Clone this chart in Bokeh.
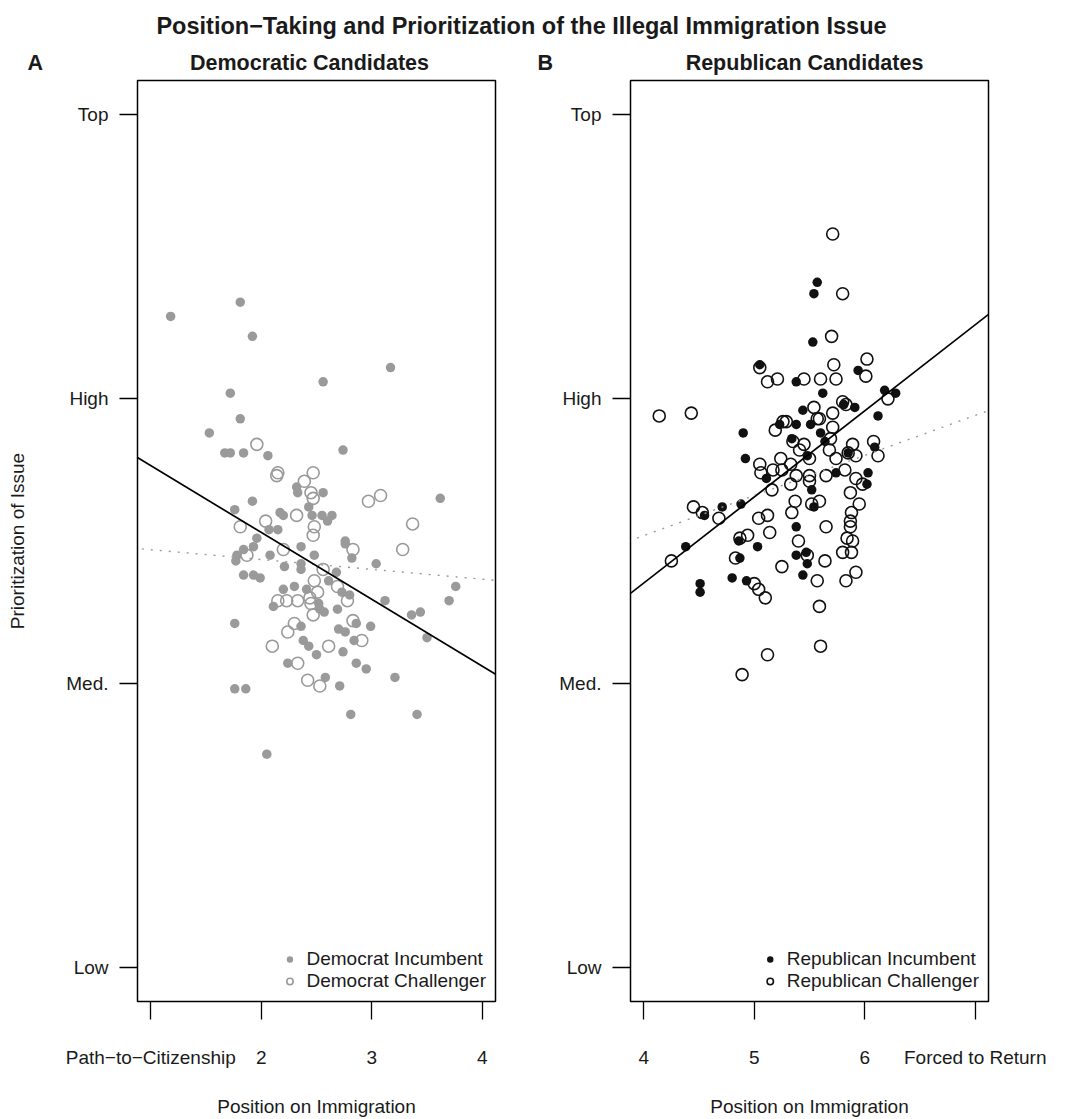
from bokeh.plotting import figure
from bokeh.layouts import column, row
from bokeh.models import Range1d, FixedTicker, Slope, Label, Legend
from bokeh.embed import file_html
from bokeh.resources import INLINE

# ---------------- data ----------------
main_title = "Position\u2212Taking and Prioritization of the Illegal Immigration Issue"
panel_letters = ["A", "B"]
panel_titles = ["Democratic Candidates", "Republican Candidates"]
y_ticks = [1, 2, 3, 4]
y_tick_labels = ["Low", "Med.", "High", "Top"]
y_title = "Prioritization of Issue"
x_title = "Position on Immigration"
dem_x_ticks = [1, 2, 3, 4]
dem_x_labels = ["Path\u2212to\u2212Citizenship", "2", "3", "4"]
rep_x_ticks = [4, 5, 6, 7]
rep_x_labels = ["4", "5", "6", "Forced to Return"]
legend_dem = ["Democrat Incumbent", "Democrat Challenger"]
legend_rep = ["Republican Incumbent", "Republican Challenger"]

# (position, prioritization)
dem_incumbent = [
    (1.18, 3.29), (1.81, 3.34), (1.92, 3.22), (3.17, 3.11), (2.56, 3.06), (1.72, 3.02),
    (1.81, 2.93), (1.53, 2.88), (1.67, 2.81), (1.72, 2.81), (1.84, 2.81), (2.06, 2.80),
    (2.74, 2.82), (3.62, 2.65), (2.32, 2.69), (2.33, 2.67), (2.56, 2.67), (1.92, 2.64),
    (1.76, 2.61), (2.43, 2.62), (2.17, 2.60), (2.20, 2.59), (2.46, 2.59), (2.55, 2.59),
    (2.60, 2.57), (2.64, 2.59), (2.07, 2.54), (2.15, 2.54), (1.96, 2.51), (1.93, 2.48),
    (1.84, 2.47), (1.78, 2.45), (1.77, 2.43), (2.08, 2.45), (2.36, 2.48), (2.48, 2.45),
    (2.76, 2.50), (2.76, 2.49), (2.82, 2.44), (3.04, 2.42), (2.21, 2.41), (2.36, 2.42),
    (2.36, 2.40), (1.84, 2.38), (1.93, 2.38), (1.99, 2.37), (2.68, 2.39), (2.61, 2.36),
    (3.76, 2.34), (2.20, 2.33), (2.30, 2.34), (2.41, 2.33), (2.73, 2.32), (2.80, 2.31),
    (2.11, 2.27), (2.52, 2.28), (2.53, 2.26), (2.57, 2.25), (2.69, 2.26), (3.12, 2.29),
    (3.36, 2.24), (3.44, 2.25), (3.70, 2.29), (1.76, 2.21), (2.36, 2.20), (2.86, 2.21),
    (2.99, 2.20), (2.70, 2.19), (2.76, 2.18), (3.50, 2.16), (2.38, 2.15), (2.43, 2.13),
    (2.84, 2.15), (2.50, 2.10), (2.74, 2.11), (2.24, 2.07), (2.86, 2.07), (2.95, 2.05),
    (3.21, 2.02), (2.58, 2.02), (2.71, 1.99), (1.76, 1.98), (1.86, 1.98), (2.81, 1.89),
    (3.41, 1.89), (2.05, 1.75),
]
dem_challenger = [
    (1.96, 2.84), (2.15, 2.74), (2.14, 2.73), (2.47, 2.74), (2.39, 2.71), (2.45, 2.67),
    (2.47, 2.65), (3.08, 2.66), (2.97, 2.64), (2.32, 2.59), (2.04, 2.57), (1.81, 2.55),
    (2.48, 2.55), (2.47, 2.52), (3.37, 2.56), (2.20, 2.47), (1.87, 2.45), (2.83, 2.47),
    (3.28, 2.47), (2.56, 2.40), (2.48, 2.36), (2.69, 2.34), (2.15, 2.29), (2.23, 2.29),
    (2.33, 2.29), (2.44, 2.30), (2.45, 2.28), (2.51, 2.32), (2.78, 2.29), (2.47, 2.24),
    (2.30, 2.21), (2.24, 2.18), (2.83, 2.22), (2.91, 2.15), (2.10, 2.13), (2.61, 2.13),
    (2.33, 2.07), (2.42, 2.01), (2.53, 1.99),
]
rep_incumbent = [
    (5.57, 3.41), (5.54, 3.37), (5.53, 3.20), (5.05, 3.12), (5.94, 3.10), (5.38, 3.06),
    (5.62, 3.02), (6.18, 3.03), (6.28, 3.02), (5.81, 2.98), (5.91, 2.97), (5.44, 2.96),
    (6.12, 2.94), (5.23, 2.91), (5.38, 2.91), (5.51, 2.91), (4.90, 2.88), (5.60, 2.88),
    (5.34, 2.86), (5.64, 2.85), (6.09, 2.83), (5.48, 2.80), (5.85, 2.81), (4.92, 2.79),
    (5.11, 2.72), (5.74, 2.74), (6.03, 2.74), (6.02, 2.70), (5.52, 2.68), (4.71, 2.62),
    (4.88, 2.63), (5.54, 2.62), (4.55, 2.59), (4.38, 2.48), (5.38, 2.55), (5.03, 2.48),
    (4.86, 2.50), (4.87, 2.44), (5.38, 2.45), (5.47, 2.46), (5.48, 2.42), (5.44, 2.38),
    (4.80, 2.37), (4.93, 2.36), (4.51, 2.35), (4.51, 2.32),
]
rep_challenger = [
    (5.71, 3.58), (5.80, 3.37), (5.70, 3.22), (5.05, 3.11), (6.02, 3.14), (5.72, 3.12),
    (5.21, 3.07), (5.12, 3.06), (5.45, 3.07), (5.60, 3.07), (5.74, 3.07), (6.01, 3.08),
    (4.14, 2.94), (4.43, 2.95), (6.21, 3.00), (5.80, 2.99), (5.83, 2.98), (5.54, 2.97),
    (5.71, 2.95), (5.59, 2.93), (5.57, 2.93), (5.29, 2.92), (5.26, 2.92), (5.19, 2.89),
    (5.71, 2.90), (5.35, 2.85), (5.45, 2.84), (5.69, 2.86), (5.41, 2.82), (5.50, 2.79),
    (5.68, 2.82), (5.89, 2.84), (6.08, 2.85), (6.12, 2.80), (5.85, 2.81), (5.92, 2.80),
    (5.74, 2.79), (5.05, 2.77), (5.06, 2.74), (5.24, 2.79), (5.17, 2.75), (5.25, 2.75),
    (5.33, 2.77), (5.38, 2.73), (5.50, 2.73), (5.50, 2.71), (5.65, 2.73), (5.82, 2.75),
    (5.92, 2.72), (5.98, 2.70), (5.33, 2.70), (5.16, 2.68), (5.87, 2.67), (5.37, 2.64),
    (5.59, 2.64), (5.52, 2.63), (5.95, 2.63), (5.34, 2.60), (4.45, 2.62), (4.53, 2.60),
    (4.68, 2.58), (5.04, 2.58), (5.12, 2.59), (5.88, 2.60), (5.14, 2.53), (5.40, 2.50),
    (5.65, 2.55), (5.87, 2.57), (5.87, 2.55), (5.84, 2.51), (5.89, 2.50), (5.80, 2.46),
    (5.88, 2.46), (5.92, 2.39), (5.83, 2.36), (4.87, 2.51), (4.94, 2.52), (4.83, 2.44),
    (5.48, 2.45), (5.64, 2.43), (5.25, 2.41), (4.25, 2.43), (5.00, 2.35), (5.04, 2.33),
    (5.10, 2.30), (5.57, 2.36), (5.59, 2.27), (5.60, 2.13), (5.12, 2.10), (4.89, 2.03),
]
# fitted lines: (intercept, slope)
dem_fit_solid = (3.00, -0.235)
dem_fit_dotted = (2.504, -0.0346)
rep_fit_solid = (1.140, 0.303)
rep_fit_dotted = (1.955, 0.141)

# ---------------- styling ----------------
FONT = "Liberation Sans"
GRAY = "#9a9a9a"
BLACK = "#111111"
TXT = "#1a1a1a"

# header with overall title and panel titles
hdr = figure(width=1065, height=78, x_range=Range1d(0, 1065), y_range=Range1d(78, 0),
             output_backend="svg", toolbar_location=None,
             x_axis_location=None, y_axis_location=None, min_border=0)
hdr.grid.visible = False
hdr.outline_line_color = None
hdr.add_layout(Label(x=521, y=25, text=main_title, text_align="center", text_baseline="middle",
                     text_font=FONT, text_font_size="23.5px", text_font_style="bold", text_color=TXT))
for txt, xpos in zip(panel_letters, [27, 537]):
    hdr.add_layout(Label(x=xpos, y=62, text=txt, text_align="left", text_baseline="middle",
                         text_font=FONT, text_font_size="21.5px", text_font_style="bold", text_color=TXT))
for txt, xpos in zip(panel_titles, [309, 804]):
    hdr.add_layout(Label(x=xpos, y=62, text=txt, text_align="center", text_baseline="middle",
                         text_font=FONT, text_font_size="21.5px", text_font_style="bold", text_color=TXT))


def make_panel(width, left, right, xticks, xlabels, inc, chal, col, fits, leg_labels, ylabel):
    span = xticks[-1] - xticks[0]
    p = figure(width=width, height=1041,
               x_range=Range1d(xticks[0] - 0.04 * span, xticks[-1] + 0.04 * span),
               y_range=Range1d(0.88, 4.12),
               output_backend="svg", toolbar_location=None,
               min_border_left=left, min_border_right=right,
               min_border_top=2, min_border_bottom=117)
    p.grid.visible = False
    p.outline_line_color = "black"
    p.outline_line_width = 1.5
    p.outline_line_alpha = 1.0
    p.background_fill_color = "white"
    p.border_fill_color = "white"

    ix, iy = zip(*inc)
    cx, cy = zip(*chal)
    r_inc = p.scatter(list(ix), list(iy), size=9.5, marker="circle",
                      fill_color=col, line_color=None)
    r_chal = p.scatter(list(cx), list(cy), size=12, marker="circle",
                       fill_color=None, line_color=col, line_width=1.6)

    (a1, b1), (a2, b2) = fits
    p.add_layout(Slope(gradient=b2, y_intercept=a2, line_color=GRAY, line_width=1.4,
                       line_dash="2 7"))
    p.add_layout(Slope(gradient=b1, y_intercept=a1, line_color="black", line_width=1.7))

    # x axis
    xa = p.xaxis[0]
    xa.ticker = FixedTicker(ticks=xticks)
    xa.major_label_overrides = {t: l for t, l in zip(xticks, xlabels)}
    xa.axis_line_color = None
    xa.major_tick_out = 18
    xa.major_tick_in = 0
    xa.major_tick_line_color = "black"
    xa.major_tick_line_width = 1.3
    xa.minor_tick_line_color = None
    xa.major_label_standoff = 27
    xa.major_label_text_font = FONT
    xa.major_label_text_font_size = "19px"
    xa.major_label_text_color = TXT
    xa.axis_label = x_title
    xa.axis_label_standoff = 25
    xa.axis_label_text_font = FONT
    xa.axis_label_text_font_size = "19px"
    xa.axis_label_text_font_style = "normal"
    xa.axis_label_text_color = TXT

    # y axis
    ya = p.yaxis[0]
    ya.ticker = FixedTicker(ticks=y_ticks)
    ya.major_label_overrides = {t: l for t, l in zip(y_ticks, y_tick_labels)}
    ya.axis_line_color = None
    ya.major_tick_out = 18
    ya.major_tick_in = 0
    ya.major_tick_line_color = "black"
    ya.major_tick_line_width = 1.3
    ya.minor_tick_line_color = None
    ya.major_label_standoff = 11
    ya.major_label_text_font = FONT
    ya.major_label_text_font_size = "19px"
    ya.major_label_text_color = TXT
    if ylabel:
        ya.axis_label = ylabel
        ya.axis_label_standoff = 35
        ya.axis_label_text_font = FONT
        ya.axis_label_text_font_size = "19px"
        ya.axis_label_text_font_style = "normal"
        ya.axis_label_text_color = TXT

    leg = Legend(items=[(leg_labels[0], [r_inc]), (leg_labels[1], [r_chal])],
                 location="bottom_right", margin=9, padding=12, spacing=-4,
                 glyph_width=16, glyph_height=16, label_height=16, label_standoff=9,
                 label_text_font=FONT, label_text_font_size="19px", label_text_color=TXT,
                 border_line_color=None, background_fill_alpha=0)
    p.add_layout(leg)
    return p


pA = make_panel(540, 137, 45, dem_x_ticks, dem_x_labels, dem_incumbent, dem_challenger, GRAY,
                (dem_fit_solid, dem_fit_dotted), legend_dem, y_title)
pB = make_panel(525, 90, 77, rep_x_ticks, rep_x_labels, rep_incumbent, rep_challenger, BLACK,
                (rep_fit_solid, rep_fit_dotted), legend_rep, None)

layout = column(hdr, row(pA, pB, spacing=0), spacing=0)
open("out.html", "w").write(file_html(layout, INLINE))
